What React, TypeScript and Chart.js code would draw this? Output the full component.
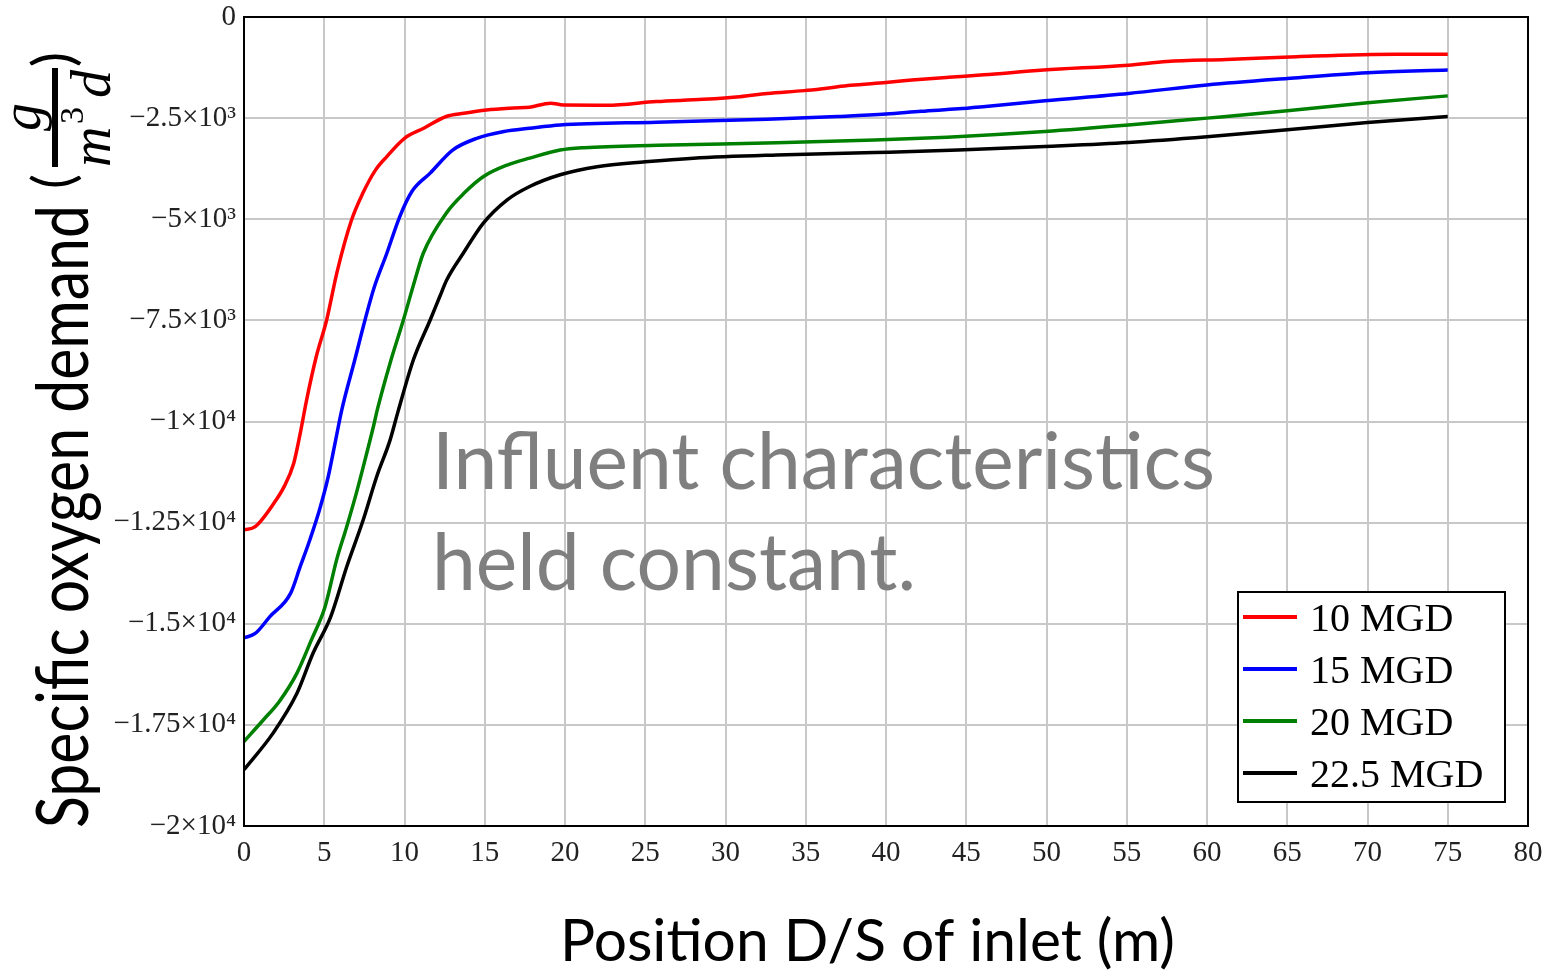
import React, { useEffect, useRef } from 'react';
import { Chart, registerables } from 'chart.js';

Chart.register(...registerables);

// Position downstream of the inlet (m) and specific oxygen demand (g/(m³·d)) for each flow rate
const pos10 = [0, 0.7, 2.0, 2.5, 3.1, 3.5, 3.9, 4.5, 5.15, 5.8, 6.7, 7.4, 8.2, 8.9, 10.0, 11.2, 12.6, 13.7, 15.1, 16.8, 17.8, 19.1, 19.9, 22.6, 25.7, 28.6, 30.9, 32.6, 34.9, 36.3, 37.8, 40.0, 41.6, 43.9, 46.1, 49.8, 55.1, 57.5, 61.2, 65.6, 71.8, 75.0];
const sod10 = [-12680, -12600, -11940, -11610, -11030, -10300, -9470, -8400, -7490, -6300, -5020, -4360, -3780, -3450, -3000, -2750, -2460, -2380, -2300, -2250, -2230, -2130, -2175, -2180, -2090, -2035, -1970, -1890, -1820, -1760, -1690, -1620, -1560, -1490, -1430, -1310, -1190, -1100, -1050, -980, -920, -920];

const pos15 = [0, 0.7, 1.6, 2.9, 3.5, 4.1, 4.7, 5.25, 5.67, 6.1, 6.9, 7.54, 8.1, 8.9, 9.7, 10.45, 11.6, 13.0, 14.5, 16.2, 17.8, 19.7, 25.7, 32.6, 37.0, 40.0, 42.2, 44.5, 46.2, 49.9, 55.1, 60.0, 65.0, 70.0, 75.0];
const sod15 = [-15350, -15240, -14830, -14250, -13590, -12930, -12190, -11360, -10540, -9700, -8480, -7490, -6700, -5840, -4940, -4320, -3860, -3290, -3000, -2830, -2750, -2670, -2600, -2530, -2460, -2400, -2330, -2270, -2210, -2070, -1890, -1680, -1520, -1380, -1310];

const pos20 = [0, 1.2, 2.2, 3.3, 4.2, 5.05, 5.77, 6.4, 7.0, 7.54, 8.06, 8.3, 9.1, 9.93, 10.65, 11.17, 12.6, 13.7, 14.9, 16.4, 17.8, 19.7, 21.2, 25.8, 33.2, 39.3, 43.8, 49.9, 55.1, 60.0, 65.0, 70.0, 75.0];
const sod20 = [-17910, -17380, -16920, -16220, -15400, -14580, -13420, -12600, -11770, -10950, -10130, -9720, -8560, -7490, -6500, -5840, -4850, -4360, -3950, -3660, -3490, -3290, -3230, -3170, -3110, -3040, -2970, -2830, -2670, -2500, -2320, -2120, -1950];

const pos225 = [0, 1.8, 3.3, 4.3, 5.4, 6.4, 7.43, 8.27, 9.1, 9.6, 10.55, 11.6, 12.2, 12.63, 13.66, 14.9, 16.4, 17.8, 19.7, 22.0, 25.0, 28.0, 33.2, 39.3, 44.5, 49.9, 55.1, 60.0, 65.0, 70.0, 75.0];
const sod225 = [-18610, -17710, -16720, -15730, -14830, -13590, -12430, -11360, -10460, -9750, -8480, -7490, -6910, -6500, -5840, -5100, -4520, -4190, -3900, -3700, -3580, -3490, -3410, -3350, -3290, -3200, -3100, -2960, -2790, -2610, -2460];

const seriesLabels = ['10 MGD', '15 MGD', '20 MGD', '22.5 MGD'];
const seriesColors = ['#ff0000', '#0000ff', '#008000', '#000000'];

const yTickValues = [0, -2500, -5000, -7500, -10000, -12500, -15000, -17500, -20000];
const yTickLabels = ['0', '−2.5×10³', '−5×10³', '−7.5×10³', '−1×10⁴', '−1.25×10⁴', '−1.5×10⁴', '−1.75×10⁴', '−2×10⁴'];

const xTitle = 'Position D/S of inlet (m)';
const yTitle = 'Specific oxygen demand';
const noteLines = ['Influent characteristics', 'held constant.'];

const SANS = 'Lato, "Open Sans", sans-serif';
const SERIF = '"Liberation Serif", "DejaVu Serif", serif';

const toPoints = (xs: number[], ys: number[]) => xs.map((x, i) => ({ x, y: ys[i] }));

// font size (px) at which `text` measures `target` px wide
function fitSize(ctx: CanvasRenderingContext2D, text: string, family: string, target: number, style = '') {
  ctx.font = `${style} 100px ${family}`;
  return (100 * target) / ctx.measureText(text).width;
}

const overlayPlugin = {
  id: 'overlay',
  afterDraw(chart: any) {
    const ctx: CanvasRenderingContext2D = chart.ctx;
    const a = chart.chartArea;
    ctx.save();

    // plot frame
    ctx.strokeStyle = '#000';
    ctx.lineWidth = 2;
    ctx.strokeRect(a.left, a.top, a.right - a.left, a.bottom - a.top);

    // note inside the plot
    ctx.fillStyle = '#7f7f7f';
    ctx.textAlign = 'left';
    ctx.textBaseline = 'alphabetic';
    const noteSize = fitSize(ctx, noteLines[0], SANS, 783);
    ctx.font = `${noteSize}px ${SANS}`;
    ctx.fillText(noteLines[0], 432, 489);
    ctx.fillText(noteLines[1], 432, 590);

    // legend box
    const lx = 1238, ly = 592, lw = 267, lh = 210;
    ctx.fillStyle = '#fff';
    ctx.fillRect(lx, ly, lw, lh);
    ctx.strokeStyle = '#000';
    ctx.lineWidth = 2;
    ctx.strokeRect(lx, ly, lw, lh);
    ctx.font = `40px ${SERIF}`;
    chart.data.datasets.forEach((ds: any, i: number) => {
      const y = 617 + i * 52;
      ctx.strokeStyle = ds.borderColor;
      ctx.lineWidth = 4;
      ctx.beginPath();
      ctx.moveTo(lx + 5, y);
      ctx.lineTo(lx + 59, y);
      ctx.stroke();
      ctx.fillStyle = '#000';
      ctx.fillText(ds.label, lx + 72, y + 14);
    });

    // x-axis title
    const xSize = fitSize(ctx, xTitle, SANS, 615);
    ctx.font = `${xSize}px ${SANS}`;
    ctx.fillStyle = '#000';
    ctx.fillText(xTitle, 560, 961);

    // y-axis title, rotated, with the g / (m³ d) unit fraction
    ctx.rotate(-Math.PI / 2);
    const ySize = fitSize(ctx, yTitle, SANS, 623);
    ctx.save();
    ctx.translate(-828, 88);
    ctx.scale(1, 1.22);
    ctx.font = `${ySize}px ${SANS}`;
    ctx.fillText(yTitle, 0, 0);
    ctx.restore();

    ctx.font = `56px ${SANS}`;
    ctx.fillText('(', -189, 73);
    ctx.fillText(')', -67, 73);

    ctx.lineWidth = 6;
    ctx.strokeStyle = '#000';
    ctx.beginPath();
    ctx.moveTo(-167, 55);
    ctx.lineTo(-68, 55);
    ctx.stroke();

    ctx.font = `italic 56px ${SERIF}`;
    ctx.textAlign = 'center';
    ctx.fillText('g', -117, 40);
    ctx.textAlign = 'left';
    ctx.fillText('m', -167, 110);
    ctx.font = `34px ${SERIF}`;
    ctx.fillText('3', -124, 83);
    ctx.font = `italic 56px ${SERIF}`;
    ctx.fillText('d', -98, 110);

    ctx.restore();
  },
};

export default function App() {
  const canvasRef = useRef<HTMLCanvasElement>(null);

  useEffect(() => {
    const canvas = canvasRef.current;
    if (!canvas) return;
    const series = [
      toPoints(pos10, sod10),
      toPoints(pos15, sod15),
      toPoints(pos20, sod20),
      toPoints(pos225, sod225),
    ];
    const gridStyle = { color: '#c8c8c8', lineWidth: 2, drawTicks: false };

    const chart = new Chart(canvas, {
      type: 'line',
      data: {
        datasets: series.map((data, i) => ({
          label: seriesLabels[i],
          data,
          borderColor: seriesColors[i],
          backgroundColor: seriesColors[i],
          borderWidth: 3.5,
          pointRadius: 0,
          fill: false,
          cubicInterpolationMode: 'monotone' as const,
        })),
      },
      options: {
        responsive: false,
        animation: false,
        events: [],
        layout: { padding: { left: 0, top: 17, right: 33, bottom: 0 } },
        plugins: { legend: { display: false }, tooltip: { enabled: false } },
        scales: {
          x: {
            type: 'linear',
            min: 0,
            max: 80,
            grid: gridStyle,
            border: { display: true, color: '#000', width: 2 },
            ticks: {
              stepSize: 5,
              autoSkip: false,
              maxRotation: 0,
              padding: 13,
              color: '#222',
              font: { family: SERIF, size: 29, lineHeight: 1 },
            },
            afterFit: (s: any) => { s.height = 146; },
          },
          y: {
            type: 'linear',
            min: -20000,
            max: 0,
            grid: gridStyle,
            border: { display: true, color: '#000', width: 2 },
            ticks: {
              stepSize: 2500,
              autoSkip: false,
              padding: 8,
              color: '#222',
              font: { family: SERIF, size: 29, lineHeight: 0.5 },
              callback: (v: any) => {
                const i = yTickValues.indexOf(Number(v));
                return i >= 0 ? yTickLabels[i] : '';
              },
            },
            afterFit: (s: any) => { s.width = 244; },
          },
        },
      },
      plugins: [overlayPlugin],
    });
    return () => chart.destroy();
  }, []);

  return (
    <div style={{ position: 'absolute', left: 0, top: 0, width: 1561, height: 972, background: '#fff' }}>
      <canvas ref={canvasRef} width={1561} height={972} style={{ display: 'block' }} />
    </div>
  );
}
